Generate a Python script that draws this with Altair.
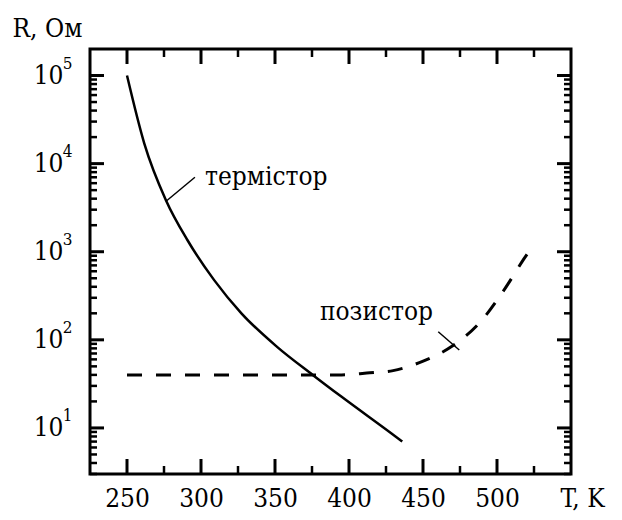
import altair as alt
import pandas as pd
import math

# ---- data ----
therm_T = [250, 261.7, 276.3, 290.9, 308.9, 327.3, 351.2, 375.5, 394.8, 428.5, 436.0]
therm_R = [100000, 16900, 3850, 1350, 476, 200, 83.8, 40, 22.7, 8.7, 7.0]

pos_T = [250, 300, 350, 395, 412, 429.8, 450.1, 469.8, 488.9, 504.6, 518.4, 521.4]
pos_R = [40, 40, 40, 40, 41.9, 44.7, 57.4, 84.9, 160.7, 364.8, 839, 998]

labels = ["термістор", "позистор"]
label_T = [302.7, 456.8]
label_R = [5710, 168]

lead_T1 = [276.8, 460.3]
lead_R1 = [3790, 123.6]
lead_T2 = [295.9, 474.5]
lead_R2 = [7000, 76.6]

x_major = [250, 300, 350, 400, 450, 500]
x_minor = [275, 325, 375, 425, 475, 525]
y_major = [10, 100, 1000, 10000, 100000]
y_minor = [3, 4, 5, 6, 7, 8, 9,
           20, 30, 40, 50, 60, 70, 80, 90,
           200, 300, 400, 500, 600, 700, 800, 900,
           2000, 3000, 4000, 5000, 6000, 7000, 8000, 9000,
           20000, 30000, 40000, 50000, 60000, 70000, 80000, 90000]

W, H = 481, 425
X_DOM = [225, 550]
Y_DOM = [3, 200000]

# tick lengths in pixels, turned into data units
px_x = (X_DOM[1] - X_DOM[0]) / W
px_ylog = math.log10(Y_DOM[1] / Y_DOM[0]) / H

def xticks(vals, size):
    lo = Y_DOM[0] * 10 ** (size * px_ylog)
    hi = Y_DOM[1] / 10 ** (size * px_ylog)
    rows = []
    for v in vals:
        rows.append({"T1": v, "T2": v, "R1": Y_DOM[0], "R2": lo})
        rows.append({"T1": v, "T2": v, "R1": Y_DOM[1], "R2": hi})
    return pd.DataFrame(rows)

def yticks(vals, size):
    rows = []
    for v in vals:
        rows.append({"T1": X_DOM[0], "T2": X_DOM[0] + size * px_x, "R1": v, "R2": v})
        rows.append({"T1": X_DOM[1], "T2": X_DOM[1] - size * px_x, "R1": v, "R2": v})
    return pd.DataFrame(rows)

therm = pd.DataFrame({"T": therm_T, "R": therm_R})
pos = pd.DataFrame({"T": pos_T, "R": pos_R})
lab = pd.DataFrame({"T": label_T, "R": label_R, "text": labels})
lead = pd.DataFrame({"T1": lead_T1, "R1": lead_R1, "T2": lead_T2, "R2": lead_R2})

xs = alt.Scale(domain=X_DOM, nice=False, zero=False)
ys = alt.Scale(type="log", domain=Y_DOM, nice=False)

F = "DejaVu Serif Condensed"

common = dict(domain=False, grid=False, ticks=False, tickSize=0, labelColor="black",
              titleColor="black", labelFlush=False, labelOverlap=False, labelBound=False)

ax_x = alt.Axis(orient="bottom", values=x_major, offset=0, labelFont=F,
                labelFontSize=26, labelPadding=32, labelBaseline="alphabetic",
                title="T, K", titleFont=F, titleFontSize=26, titleFontWeight="normal",
                titleX=470, titleY=32, titleAlign="left", titleBaseline="alphabetic",
                titleAnchor="start", **common)
ax_y = alt.Axis(orient="left", values=y_major, offset=0, labelFont=F,
                labelExpr="'10'", labelFontSize=26, labelPadding=27,
                title="R, Ом", titleFont=F, titleFontSize=26, titleFontWeight="normal",
                titleAngle=0, titleX=-78, titleY=-13, titleAlign="left",
                titleBaseline="alphabetic", titleAnchor="start", **common)
ax_y_exp = alt.Axis(orient="left", values=y_major, offset=0, labelFont=F,
                    labelExpr="'' + round(log(datum.value) / LN10)", labelFontSize=17,
                    labelPadding=18, labelOffset=-12, title=None, **common)

X = lambda f: alt.X(f, scale=xs, axis=None)
Y = lambda f: alt.Y(f, scale=ys, axis=None)

therm_line = alt.Chart(therm).mark_line(color="black", strokeWidth=2.5, interpolate="monotone").encode(
    x=alt.X("T:Q", scale=xs, axis=ax_x),
    y=alt.Y("R:Q", scale=ys, axis=ax_y),
)
pos_line = alt.Chart(pos).mark_line(color="black", strokeWidth=3, strokeDash=[15, 14],
                                    interpolate="monotone").encode(
    x=X("T:Q"), y=alt.Y("R:Q", scale=ys, axis=ax_y_exp),
)

def seg(df, w):
    return alt.Chart(df).mark_rule(color="black", strokeWidth=w).encode(
        x=X("T1:Q"), y=Y("R1:Q"), x2="T2:Q", y2="R2:Q")

tick_layers = [
    seg(xticks(x_major, 15), 3),
    seg(xticks(x_minor, 8), 2.5),
    seg(yticks(y_major, 14), 3),
    seg(yticks(y_minor, 7), 2.5),
]

leaders = seg(lead, 1.5)
text_left = alt.Chart(lab.iloc[[0]]).mark_text(align="left", baseline="alphabetic", font=F,
                                               fontSize=26, color="black").encode(
    x=X("T:Q"), y=Y("R:Q"), text="text:N",
)
text_right = alt.Chart(lab.iloc[[1]]).mark_text(align="right", baseline="alphabetic", font=F,
                                                fontSize=26, color="black").encode(
    x=X("T:Q"), y=Y("R:Q"), text="text:N",
)

chart = alt.layer(
    pos_line, therm_line, *tick_layers, leaders, text_left, text_right
).resolve_axis(
    x="independent", y="independent"
).properties(
    width=W, height=H,
    autosize=alt.AutoSizeParams(type="none"),
    padding={"left": 82, "top": 41, "right": 43, "bottom": 38},
    background="white",
).configure_view(stroke="black", strokeWidth=3)

chart.save("out.html", embed_options={"renderer": "svg", "actions": False})
